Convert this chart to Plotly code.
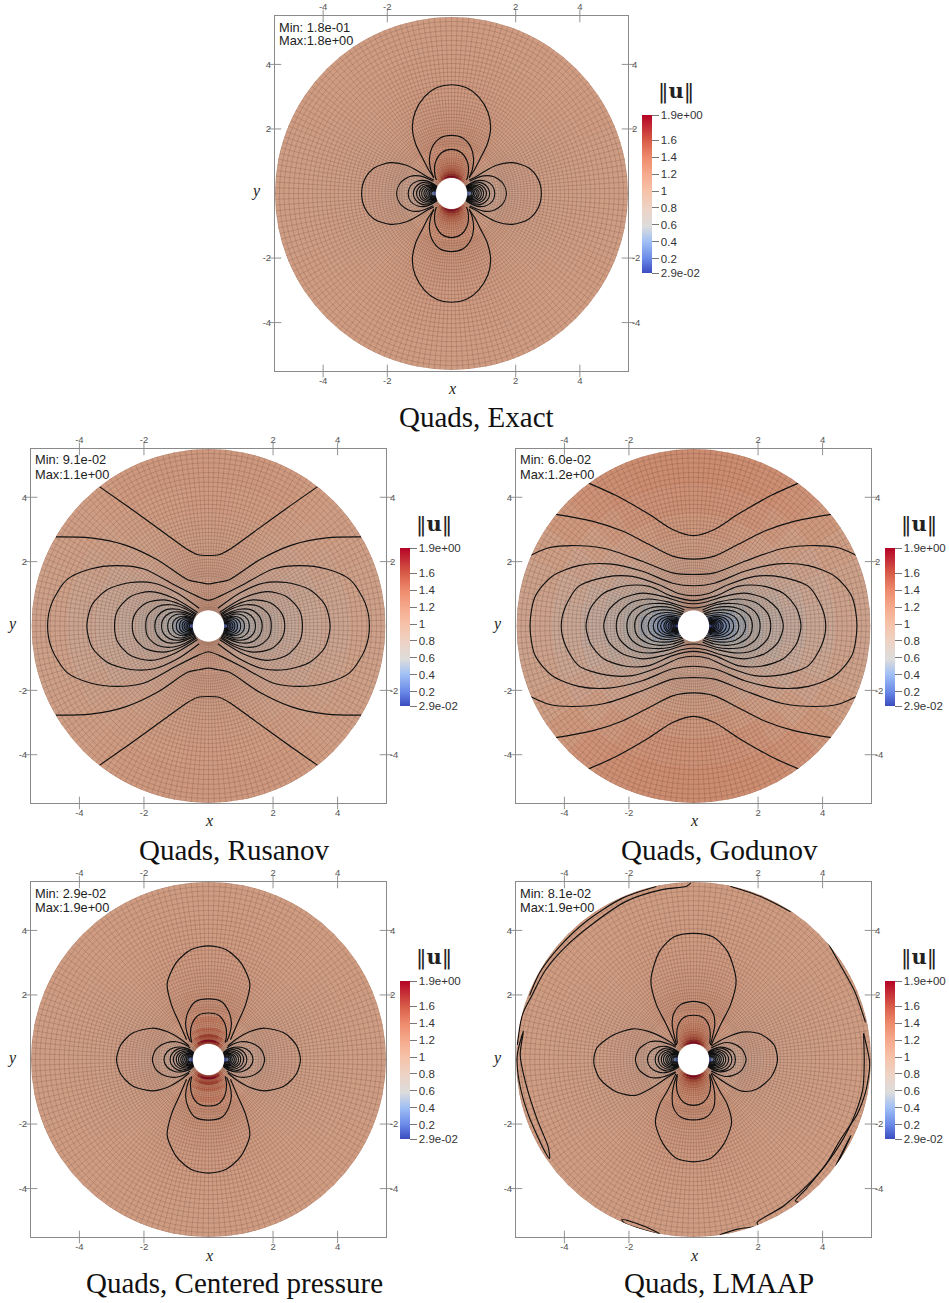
import numpy as np
import plotly.graph_objects as go

W, H = 949, 1303
TITLES = ["Quads, Exact", "Quads, Rusanov", "Quads, Godunov", "Quads, Centered pressure", "Quads, LMAAP"]
MINS = ["1.8e-01", "9.1e-02", "6.0e-02", "2.9e-02", "8.1e-02"]
MAXS = ["1.8e+00", "1.1e+00", "1.2e+00", "1.9e+00", "1.9e+00"]
AXIS_TICKS = [-4, -2, 2, 4]
AXIS_TICK_TEXT = ["-4", "-2", "2", "4"]
CB_VALUES = [1.9, 1.6, 1.4, 1.2, 1.0, 0.8, 0.6, 0.4, 0.2, 0.029]
CB_TEXT = ["1.9e+00", "1.6", "1.4", "1.2", "1", "0.8", "0.6", "0.4", "0.2", "2.9e-02"]
COLOR_VALUES = [0.029, 0.2, 0.4, 0.58, 0.8, 1.0, 1.2, 1.4, 1.6, 1.9]
COLOR_HEX = ["#3b4cc0", "#6a8ae8", "#a0bff5", "#dcdcdc", "#eed2c4", "#f6c2a8", "#f5a98c", "#ee8a6c", "#d85c48", "#b40426"]
# the lit, meshed surface reads darker than the colour bar
SURFACE_HEX = ["#2a3a95", "#5670b5", "#8098bb", "#b3aea8", "#c8a897", "#cf9c82", "#cc8a6e", "#c57055", "#b04a38", "#8e0a20"]

# radial edges of the colour table (r), sector centres in degrees
FIELD_EDGES = [0.5, 0.56, 0.63, 0.71, 0.8, 0.9, 1.0, 1.15, 1.35, 1.7, 2.2, 2.8, 3.5, 4.4, 5.5]
FIELD_SECTORS = [5.625, 16.875, 28.125, 39.375, 50.625, 61.875, 73.125, 84.375]

EXACT_FIELD = [
    [.21, .56, .90, 1.20, 1.46, 1.67, 1.81, 1.88],
    [.34, .57, .84, 1.11, 1.33, 1.51, 1.63, 1.70],
    [.47, .62, .83, 1.05, 1.24, 1.39, 1.50, 1.55],
    [.58, .68, .84, 1.01, 1.17, 1.30, 1.39, 1.43],
    [.66, .74, .86, .99, 1.12, 1.23, 1.30, 1.34],
    [.73, .79, .88, .98, 1.09, 1.18, 1.24, 1.27],
    [.79, .83, .90, .98, 1.06, 1.14, 1.19, 1.21],
    [.84, .87, .92, .98, 1.04, 1.10, 1.14, 1.16],
    [.89, .91, .94, .98, 1.03, 1.07, 1.09, 1.11],
    [.93, .95, .96, .99, 1.01, 1.04, 1.06, 1.06],
    [.96, .96, .97, .99, 1.0, 1.02, 1.03, 1.04],
    [.97, .98, .98, .99, 1.0, 1.01, 1.02, 1.02],
    [.98, .99, .99, 1.0, 1.0, 1.0, 1.01, 1.01],
    [.99, .99, 1.0, 1.0, 1.0, 1.0, 1.0, 1.0],
]
RUSANOV_FIELD = [
    [.15, .35, .60, .80, .90, .95, .98, 1.0],
    [.22, .38, .60, .80, .90, .96, .99, 1.0],
    [.30, .42, .60, .78, .88, .95, .98, .99],
    [.36, .46, .62, .78, .88, .94, .97, .98],
    [.42, .50, .64, .78, .88, .93, .96, .97],
    [.47, .54, .66, .79, .87, .93, .95, .96],
    [.52, .58, .68, .79, .87, .92, .95, .96],
    [.58, .63, .71, .80, .87, .92, .95, .96],
    [.64, .68, .74, .82, .88, .92, .95, .96],
    [.72, .75, .79, .85, .90, .94, .96, .97],
    [.77, .79, .83, .88, .92, .95, .97, .98],
    [.82, .84, .87, .91, .94, .97, .99, 1.0],
    [.87, .89, .92, .95, .98, 1.0, 1.01, 1.02],
    [.93, .94, .96, .99, 1.01, 1.03, 1.04, 1.04],
]
GODUNOV_FIELD = [
    [.08, .20, .40, .60, .75, .85, .92, .95],
    [.12, .22, .40, .60, .75, .85, .92, .95],
    [.20, .28, .42, .60, .75, .85, .92, .95],
    [.26, .33, .46, .60, .74, .84, .90, .92],
    [.31, .38, .49, .62, .74, .83, .89, .90],
    [.36, .42, .52, .63, .74, .82, .87, .90],
    [.41, .46, .55, .65, .75, .82, .87, .89],
    [.47, .51, .59, .68, .76, .83, .87, .89],
    [.53, .57, .63, .72, .79, .85, .89, .90],
    [.62, .65, .71, .78, .84, .89, .92, .94],
    [.69, .72, .77, .83, .89, .94, .97, .99],
    [.75, .78, .83, .90, .96, 1.01, 1.04, 1.05],
    [.82, .85, .90, .97, 1.04, 1.09, 1.11, 1.12],
    [.90, .92, .97, 1.05, 1.11, 1.15, 1.17, 1.18],
]
CENTERED_FIELD = [
    [.10, .50, .88, 1.18, 1.45, 1.60, 1.60, 1.62],
    [.30, .55, .84, 1.12, 1.40, 1.72, 1.88, 1.90],
    [.45, .62, .83, 1.05, 1.24, 1.35, 1.45, 1.48],
    [.58, .68, .84, 1.03, 1.25, 1.45, 1.60, 1.62],
    [.66, .74, .86, .99, 1.10, 1.20, 1.28, 1.30],
    [.73, .79, .88, .98, 1.15, 1.30, 1.40, 1.42],
    [.79, .83, .90, .98, 1.05, 1.12, 1.18, 1.18],
    [.84, .87, .92, .98, 1.05, 1.12, 1.24, 1.26],
    [.89, .91, .94, .98, 1.03, 1.07, 1.09, 1.11],
    [.93, .95, .96, .99, 1.01, 1.04, 1.06, 1.06],
    [.96, .96, .97, .99, 1.0, 1.02, 1.03, 1.04],
    [.97, .98, .98, .99, 1.0, 1.01, 1.02, 1.02],
    [.98, .99, .99, 1.0, 1.0, 1.0, 1.01, 1.01],
    [.99, .99, 1.0, 1.0, 1.0, 1.0, 1.0, 1.0],
]
LMAAP_FIELD = [
    [.12, .50, .88, 1.20, 1.48, 1.68, 1.85, 1.90],
    [.34, .57, .84, 1.11, 1.33, 1.51, 1.65, 1.75],
    [.47, .62, .83, 1.05, 1.24, 1.39, 1.50, 1.55],
    [.58, .68, .84, 1.01, 1.17, 1.30, 1.39, 1.43],
    [.66, .74, .86, .99, 1.12, 1.23, 1.30, 1.34],
    [.73, .79, .88, .98, 1.09, 1.18, 1.24, 1.27],
    [.79, .83, .90, .98, 1.06, 1.14, 1.19, 1.21],
    [.84, .87, .92, .98, 1.04, 1.10, 1.14, 1.16],
    [.89, .91, .94, .98, 1.03, 1.07, 1.09, 1.11],
    [.93, .95, .96, .99, 1.01, 1.04, 1.06, 1.06],
    [.96, .96, .97, .99, 1.0, 1.02, 1.03, 1.04],
    [.97, .98, .98, .99, 1.0, 1.01, 1.02, 1.02],
    [.98, .99, .99, 1.0, 1.0, 1.0, 1.01, 1.01],
    [.99, .99, 1.0, 1.0, 1.0, 1.0, 1.0, 1.0],
]

MESH_RINGS = [.5, .54, .58, .62, .67, .72, .77, .82, .87, .93, .99, 1.05, 1.11, 1.18, 1.25, 1.32, 1.39, 1.47,
              1.55, 1.63, 1.71, 1.8, 1.89, 1.98, 2.07, 2.17, 2.27, 2.37, 2.47, 2.58, 2.69, 2.8, 2.91, 3.03,
              3.15, 3.27, 3.39, 3.52, 3.65, 3.78, 3.91, 4.05, 4.19, 4.33, 4.47, 4.62, 4.77, 4.92, 5.07, 5.22,
              5.36, 5.5]
MESH_SPOKES = 192

# contour lines, (x, y) in axis units, one quadrant each
NESTED_ARCS = [
    [(1.19, 0), (1.12, .2), (.94, .33), (.72, .35), (.53, .27), (.46, .21)],
    [(1.09, 0), (1.03, .17), (.88, .28), (.68, .3), (.52, .24), (.46, .2)],
    [(1.0, 0), (.95, .15), (.82, .24), (.65, .26), (.47, .19)],
    [(.93, 0), (.89, .13), (.77, .21), (.62, .23), (.47, .18)],
    [(.86, 0), (.82, .11), (.72, .18), (.6, .19), (.47, .16)],
    [(.8, 0), (.77, .1), (.68, .15), (.57, .16), (.48, .15)],
    [(.74, 0), (.71, .08), (.63, .13), (.54, .13), (.48, .12)],
    [(.69, 0), (.66, .07), (.6, .1), (.52, .1), (.49, .1)],
    [(.64, 0), (.62, .05), (.56, .08), (.49, .08)],
]
EXACT_CAPS = [
    [(0, 3.39), (.45, 3.3), (.85, 3.0), (1.13, 2.55), (1.22, 2.07), (1.12, 1.55), (.9, 1.1), (.72, .75), (.55, .5)],
    [(0, 1.81), (.35, 1.73), (.6, 1.45), (.69, 1.08), (.65, .75), (.55, .48)],
    [(0, 1.375), (.3, 1.28), (.48, 1.03), (.53, .8), (.51, .55), (.47, .42)],
]
EXACT_SIDES = [
    [(2.8, 0), (2.7, .45), (2.4, .8), (1.9, .96), (1.4, .88), (1, .67), (.72, .5), (.55, .42)],
    [(1.71, 0), (1.6, .32), (1.3, .53), (1, .55), (.75, .47), (.57, .38)],
    [(1.35, 0), (1.27, .25), (1.05, .39), (.8, .4), (.6, .32), (.45, .22)],
] + NESTED_ARCS
CENTERED_CAPS = [
    [(0, 3.52), (.55, 3.4), (1.0, 3.0), (1.28, 2.35), (1.15, 1.7), (.9, 1.12), (.68, .61)],
    [(0, 1.88), (.4, 1.8), (.62, 1.5), (.71, 1.13), (.66, .8), (.56, .55)],
    [(0, 1.44), (.3, 1.38), (.5, 1.13), (.56, .8), (.52, .52)],
]
CENTERED_SIDES = [
    [(2.85, 0), (2.72, .45), (2.35, .82), (1.75, .97), (1.25, .85), (.85, .62), (.6, .42)],
    [(1.74, 0), (1.62, .32), (1.3, .52), (1, .55), (.75, .47), (.57, .36)],
    [(1.38, 0), (1.28, .24), (1.05, .37), (.8, .38), (.55, .3)],
] + NESTED_ARCS
RUSANOV_CAPS = [
    [(0, 2.19), (.35, 2.22), (.65, 2.375), (1.38, 2.9), (2.42, 3.65), (3.39, 4.33)],
    [(0, 1.31), (.3, 1.36), (.65, 1.44), (1.59, 2.06), (2.63, 2.53), (3.67, 2.74), (4.74, 2.77)],
]
RUSANOV_RINGS = [
    [(5.0, 0), (4.87, .71), (4.4, 1.44), (3.67, 1.77), (2.84, 1.875), (2, 1.77), (1.07, 1.28), (.34, .92), (0, .8)],
]
RUSANOV_SIDES = [
    [(3.78, 0), (3.62, .66), (3.15, 1.125), (2.42, 1.35), (1.69, 1.33), (.96, 1.02), (.29, .55)],
    [(2.92, 0), (2.82, .5), (2.42, .92), (1.8, 1.07), (1.07, .86), (.34, .42)],
    [(2.37, 0), (2.27, .4), (1.95, .71), (1.38, .81), (.86, .66), (.37, .37)],
    [(1.95, 0), (1.88, .34), (1.59, .6), (1.17, .66), (.76, .55), (.39, .34)],
    [(1.67, 0), (1.59, .29), (1.33, .5), (.96, .52), (.65, .42), (.4, .31)],
    [(1.46, 0), (1.4, .23), (1.2, .4), (.9, .44), (.62, .37), (.42, .28)],
    [(1.27, 0), (1.22, .2), (1.05, .34), (.8, .37), (.58, .3), (.43, .25)],
    [(1.12, 0), (1.07, .17), (.92, .28), (.72, .3), (.55, .25), (.45, .22)],
    [(1.0, 0), (.96, .15), (.84, .24), (.67, .26), (.46, .2)],
    [(.9, 0), (.87, .13), (.76, .21), (.62, .22), (.47, .17)],
    [(.82, 0), (.79, .11), (.7, .17), (.58, .18), (.48, .14)],
    [(.76, 0), (.73, .09), (.65, .14), (.55, .14), (.48, .12)],
    [(.7, 0), (.68, .07), (.6, .11), (.49, .1)],
    [(.65, 0), (.63, .06), (.56, .09), (.49, .08)],
    [(.6, 0), (.58, .05), (.53, .07), (.49, .06)],
]
GODUNOV_CAPS = [
    [(0, 2.81), (.65, 3.0), (1.38, 3.47), (2.42, 4.06), (3.26, 4.44)],
    [(0, 2.08), (.65, 2.17), (1.38, 2.53), (2.21, 2.95), (3.15, 3.26), (4.28, 3.47)],
    [(0, 1.6), (.65, 1.65), (1.59, 2.01), (2.73, 2.4), (3.78, 2.5), (4.5, 2.43), (5.05, 2.2)],
]
GODUNOV_RINGS = [
    [(5.08, 0), (4.92, .92), (4.4, 1.54), (3.57, 1.875), (2.63, 1.93), (1.59, 1.7), (.65, 1.33), (0, 1.25)],
    [(4.11, 0), (3.98, .6), (3.57, 1.23), (2.73, 1.52), (1.9, 1.54), (1.07, 1.28), (.44, 1.0), (0, .94)],
    [(3.34, 0), (3.2, .55), (2.79, 1.02), (2.1, 1.25), (1.38, 1.23), (.65, .92), (0, .79)],
    [(2.79, 0), (2.63, .5), (2.21, .86), (1.59, 1.02), (.96, .92), (.34, .73), (0, .69)],
    [(2.4, 0), (2.3, .4), (1.95, .72), (1.4, .84), (.8, .75), (.3, .6), (0, .56)],
]
GODUNOV_SIDES = [
    [(2.07, 0), (1.97, .37), (1.65, .62), (1.2, .7), (.7, .66), (.28, .5)],
    [(1.83, 0), (1.75, .3), (1.45, .52), (1.05, .6), (.65, .56), (.3, .44)],
    [(1.62, 0), (1.53, .26), (1.3, .44), (.95, .5), (.6, .47), (.33, .38)],
    [(1.41, 0), (1.34, .22), (1.12, .37), (.85, .42), (.55, .39), (.36, .35)],
    [(1.25, 0), (1.18, .2), (1.0, .31), (.75, .35), (.52, .32), (.4, .3)],
    [(1.12, 0), (1.06, .17), (.9, .27), (.7, .3), (.44, .24)],
    [(1.02, 0), (.96, .15), (.83, .23), (.65, .25), (.45, .21)],
    [(.92, 0), (.87, .13), (.75, .2), (.6, .21), (.46, .19)],
    [(.86, 0), (.82, .11), (.7, .17), (.58, .17), (.47, .16)],
    [(.79, 0), (.75, .1), (.66, .14), (.55, .14), (.48, .14)],
    [(.73, 0), (.7, .08), (.62, .12), (.54, .12), (.48, .12)],
    [(.68, 0), (.65, .07), (.58, .1), (.49, .1)],
    [(.63, 0), (.61, .06), (.55, .08), (.49, .08)],
    [(.58, 0), (.56, .05), (.52, .06), (.49, .06)],
]
LMAAP_TOP = [
    [(0, 3.91), (.6, 3.8), (1.05, 3.35), (1.32, 2.45), (1.15, 1.7), (.85, 1.1), (.55, .45)],
    [(0, 1.8), (.4, 1.7), (.62, 1.4), (.66, 1.08), (.6, .75), (.52, .45)],
    [(0, 1.37), (.3, 1.3), (.48, 1.05), (.52, .8), (.5, .5)],
]
LMAAP_BOTTOM = [
    [(0, -3.17), (.55, -3.05), (.95, -2.6), (1.18, -1.95), (1.05, -1.4), (.8, -.95), (.55, -.45)],
    [(0, -1.87), (.4, -1.78), (.62, -1.5), (.66, -1.1), (.6, -.75), (.5, -.45)],
    [(0, -1.42), (.3, -1.33), (.48, -1.08), (.53, -.8), (.5, -.5)],
]
LMAAP_LEFT_OUTER = [(-.55, .42), (-.9, .65), (-1.4, .87), (-1.88, .95), (-2.5, .75), (-3.0, .35), (-3.09, -.1),
                    (-2.9, -.6), (-2.4, -1.0), (-1.8, -1.11), (-1.25, -.85), (-.8, -.55), (-.55, -.4)]
LMAAP_RIGHT_OUTER = [(.55, .42), (.95, .65), (1.5, .85), (2.05, .8), (2.5, .45), (2.6, -.05), (2.4, -.55),
                     (1.95, -.92), (1.5, -.98), (.95, -.7), (.55, -.42)]
LMAAP_LEFT_SIDES = [
    [(1.8, 0), (1.68, .33), (1.35, .55), (1.05, .56), (.75, .47), (.55, .38)],
    [(1.43, 0), (1.33, .25), (1.08, .39), (.82, .4), (.6, .32), (.45, .22)],
]
LMAAP_RIGHT_SIDES = [
    [(1.63, 0), (1.5, .32), (1.2, .5), (.95, .52), (.72, .44), (.55, .36)],
    [(1.3, 0), (1.22, .24), (1.0, .36), (.78, .38), (.58, .31), (.45, .22)],
]
LMAAP_RIM = [
    [(-.08, 5.47), (-.21, 5.37), (-.94, 5.27), (-2.09, 4.9), (-3.13, 4.2), (-3.96, 3.5), (-4.6, 2.75), (-5.0, 2.0), (-5.3, 1.39), (-5.46, .45)],
    [(-1.15, 5.36), (-2.2, 5.0), (-3.3, 4.3), (-4.15, 3.5), (-4.75, 2.72), (-5.08, 1.98)],
    [(-5.27, .87), (-5.46, .14), (-5.4, -.69), (-5.11, -1.73), (-4.59, -2.88), (-4.46, -3.07), (-4.5, -2.72), (-4.85, -1.84), (-5.21, -.69), (-5.37, .14), (-5.27, .87)],
    [(1.14, 5.37), (2.08, 5.05), (3.01, 4.58)],
    [(4.16, 3.63), (4.51, 3.0), (4.99, 2.12), (5.33, 1.15)],
    [(.81, -5.43), (1.4, -5.25), (2.0, -5.15), (1.97, -5.05), (2.8, -4.53), (3.73, -3.7), (4.35, -2.92), (4.88, -1.99), (5.24, -.95), (5.29, -.12), (5.27, .81)],
    [(5.27, .81), (5.46, -.12), (5.39, -.74), (5.32, -1.05), (5.08, -1.68), (4.54, -2.5), (4.15, -3.18), (3.53, -3.96), (3.16, -4.38), (3.25, -4.42)],
    [(4.88, -2.35), (4.65, -2.85), (4.41, -3.29), (4.55, -3.0), (4.88, -2.35)],
    [(-2.22, -4.96), (-2.14, -5.07), (-1.05, -5.4), (-1.57, -5.15), (-2.22, -4.96)],
]

# pixel layout: frame (left, right, top, bottom), colour bar left edge/top, title centre
PANELS = [
    dict(frame=(275, 628, 16, 371), bar=(642, 115), title=(477, 417)),
    dict(frame=(31, 386, 449, 803), bar=(400, 548), title=(234, 850)),
    dict(frame=(516, 871, 449, 803), bar=(885, 548), title=(719, 850)),
    dict(frame=(31, 386, 882, 1237), bar=(400, 981), title=(234, 1283)),
    dict(frame=(516, 871, 882, 1237), bar=(885, 981), title=(719, 1283)),
]


def px(x):
    return x / W


def py(y):
    return 1 - y / H


def flip_y(p):
    return [(x, -y) for x, y in p]


def flip_x(p):
    return [(-x, y) for x, y in p]


def side_curve(q):
    return q[::-1] + flip_y(q)[1:]


def cap_curve(q):
    return flip_x(q)[::-1] + q[1:]


def ring_curve(q):
    up = cap_curve(q[::-1])
    return up + flip_y(up)[::-1][1:]


def collect(caps=(), sides=(), rings=()):
    out = []
    for q in caps:
        c = cap_curve(q)
        out += [c, flip_y(c)]
    for q in sides:
        c = side_curve(q)
        out += [c, flip_x(c)]
    for q in rings:
        out.append(ring_curve(q))
    return out


lm = [cap_curve(q) for q in LMAAP_TOP + LMAAP_BOTTOM] + [LMAAP_LEFT_OUTER, LMAAP_RIGHT_OUTER] + LMAAP_RIM
lm += [flip_x(side_curve(q)) for q in LMAAP_LEFT_SIDES + NESTED_ARCS]
lm += [side_curve(q) for q in LMAAP_RIGHT_SIDES + NESTED_ARCS]

CONTOURS = [
    collect(EXACT_CAPS, EXACT_SIDES),
    collect(RUSANOV_CAPS, RUSANOV_SIDES, RUSANOV_RINGS),
    collect(GODUNOV_CAPS, GODUNOV_SIDES, GODUNOV_RINGS),
    collect(CENTERED_CAPS, CENTERED_SIDES),
    lm,
]
FIELDS = [EXACT_FIELD, RUSANOV_FIELD, GODUNOV_FIELD, CENTERED_FIELD, LMAAP_FIELD]

vmin, vmax = COLOR_VALUES[0], COLOR_VALUES[-1]
colorscale = [[(v - vmin) / (vmax - vmin), c] for v, c in zip(COLOR_VALUES, COLOR_HEX)]
surfacescale = [[(v - vmin) / (vmax - vmin), c] for v, c in zip(COLOR_VALUES, SURFACE_HEX)]

ring_theta = list(range(0, 361, 3))
mesh_r, mesh_t = [], []
for r in MESH_RINGS:
    mesh_r += [r] * len(ring_theta) + [None]
    mesh_t += ring_theta + [None]
for i in range(MESH_SPOKES):
    t = 360 * i / MESH_SPOKES
    mesh_r += [MESH_RINGS[0] if i % 2 == 0 else 1.5, MESH_RINGS[-1], None]
    mesh_t += [t, t, None]

fig = go.Figure()
layout = dict(width=W, height=H, margin=dict(l=0, r=0, t=0, b=0, autoexpand=False), paper_bgcolor="white",
              plot_bgcolor="white", showlegend=False, annotations=[])
AX = dict(range=[-5.5, 5.5], showgrid=False, zeroline=False, showline=True, linecolor="#8a8a8a", linewidth=1,
          tickmode="array", tickvals=AXIS_TICKS, ticktext=AXIS_TICK_TEXT, ticks="outside", ticklen=1,
          tickcolor="rgba(0,0,0,0)", tickfont=dict(family="Liberation Sans", size=9.5, color="#555555"))
LABEL_FONT = dict(family="Liberation Serif", size=16, color="#222")

for i, p in enumerate(PANELS):
    l, rt, t, b = p["frame"]
    dx, dy = [px(l), px(rt)], [py(b), py(t)]
    n = 2 * i + 1
    xa, ya = f"xaxis{n if n > 1 else ''}", f"yaxis{n if n > 1 else ''}"
    xb, yb = f"xaxis{n + 1}", f"yaxis{n + 1}"
    xm, ym = f"x{n if n > 1 else ''}", f"y{n if n > 1 else ''}"
    layout[xa] = dict(AX, domain=dx, anchor=ym, side="bottom")
    layout[ya] = dict(AX, domain=dy, anchor=xm, side="left")
    layout[xb] = dict(AX, domain=dx, anchor=f"y{n + 1}", side="top", overlaying=xm)
    layout[yb] = dict(AX, domain=dy, anchor=f"x{n + 1}", side="right", overlaying=ym)
    pol = f"polar{i + 1 if i else ''}"
    layout[pol] = dict(domain=dict(x=dx, y=dy), bgcolor="rgba(0,0,0,0)", hole=0,
                       radialaxis=dict(range=[0, 5.5], visible=False),
                       angularaxis=dict(visible=False, direction="counterclockwise", rotation=0))

    vals, base, wid, th = [], [], [], []
    for ri, row in enumerate(FIELDS[i]):
        for s, v in zip(FIELD_SECTORS, row):
            for a in (s, 180 - s, 180 + s, 360 - s):
                vals.append(v)
                base.append(FIELD_EDGES[ri])
                wid.append(FIELD_EDGES[ri + 1] - FIELD_EDGES[ri])
                th.append(a)
    fig.add_trace(go.Barpolar(
        r=wid, base=base, theta=th, width=11.25, subplot=pol,
        marker=dict(color=vals, colorscale=surfacescale, cmin=vmin, cmax=vmax, showscale=False,
                    line=dict(color=vals, colorscale=surfacescale, cmin=vmin, cmax=vmax, width=0.7)),
        hoverinfo="skip"))
    fig.add_trace(go.Scatterpolar(r=mesh_r, theta=mesh_t, subplot=pol, mode="lines",
                                  line=dict(color="rgba(55,30,25,0.30)", width=0.5), hoverinfo="skip"))
    cx, cy = [], []
    for c in CONTOURS[i]:
        cx += [q[0] for q in c] + [np.nan]
        cy += [q[1] for q in c] + [np.nan]
    cx, cy = np.array(cx), np.array(cy)
    fig.add_trace(go.Scatterpolar(r=np.hypot(cx, cy), theta=np.degrees(np.arctan2(cy, cx)), subplot=pol, mode="lines",
                                  line=dict(color="#101010", width=1.15, shape="spline", smoothing=0.8), hoverinfo="skip"))
    tx = [v for v in AXIS_TICKS for _ in (0, 1)]
    fig.add_trace(go.Scatter(
        x=tx, y=[-5.5, 5.5] * 4, xaxis=xm, yaxis=ym, mode="markers", cliponaxis=False,
        marker=dict(symbol="line-ns", size=9, line=dict(width=0.8, color="#777"),
                    color=[vmin] * 8, colorscale=colorscale, cmin=vmin, cmax=vmax, showscale=True,
                    colorbar=dict(x=px(p["bar"][0]), xanchor="left", xpad=0, ypad=0, yanchor="top", y=py(p["bar"][1]),
                                  len=158, lenmode="pixels", thickness=10, thicknessmode="pixels",
                                  tickmode="array", tickvals=CB_VALUES, ticktext=CB_TEXT, ticks="outside", ticklen=7,
                                  tickcolor="#777", outlinewidth=0,
                                  tickfont=dict(family="Liberation Sans", size=11.5, color="#333"))),
        hoverinfo="skip"))
    fig.add_trace(go.Scatter(y=tx, x=[-5.5, 5.5] * 4, xaxis=f"x{n + 1}", yaxis=f"y{n + 1}", mode="markers", cliponaxis=False,
                             marker=dict(symbol="line-ew", size=9, line=dict(width=0.8, color="#777")), hoverinfo="skip"))
    A = layout["annotations"]
    for txt, dy_ in ((f"Min: {MINS[i]}", 11), (f"Max:{MAXS[i]}", 25)):
        A.append(dict(text=txt, xref="paper", yref="paper", x=px(l + 2), y=py(t + dy_), xanchor="left", yanchor="middle",
                      showarrow=False, font=dict(family="Liberation Sans", size=12.8, color="#222")))
    A.append(dict(text=TITLES[i], xref="paper", yref="paper", x=px(p["title"][0]), y=py(p["title"][1]),
                  xanchor="center", yanchor="middle", showarrow=False,
                  font=dict(family="Liberation Serif", size=29, color="#111")))
    A.append(dict(text="‖<b>u</b>‖", xref="paper", yref="paper", x=px(p["bar"][0] + 34), y=py(p["bar"][1] - 24),
                  xanchor="center", yanchor="middle", showarrow=False,
                  font=dict(family="DejaVu Serif", size=21, color="#222")))
    A.append(dict(text="<i>x</i>", xref="paper", yref="paper", x=px((l + rt) / 2), y=py(b + 18),
                  xanchor="center", yanchor="middle", showarrow=False, font=LABEL_FONT))
    A.append(dict(text="<i>y</i>", xref="paper", yref="paper", x=px(l - 19), y=py((t + b) / 2 - 2),
                  xanchor="center", yanchor="middle", showarrow=False, font=LABEL_FONT))

fig.update_layout(**layout)
fig.write_html("out.html", config={"displayModeBar": False}, post_script="document.body.style.margin='0';")
